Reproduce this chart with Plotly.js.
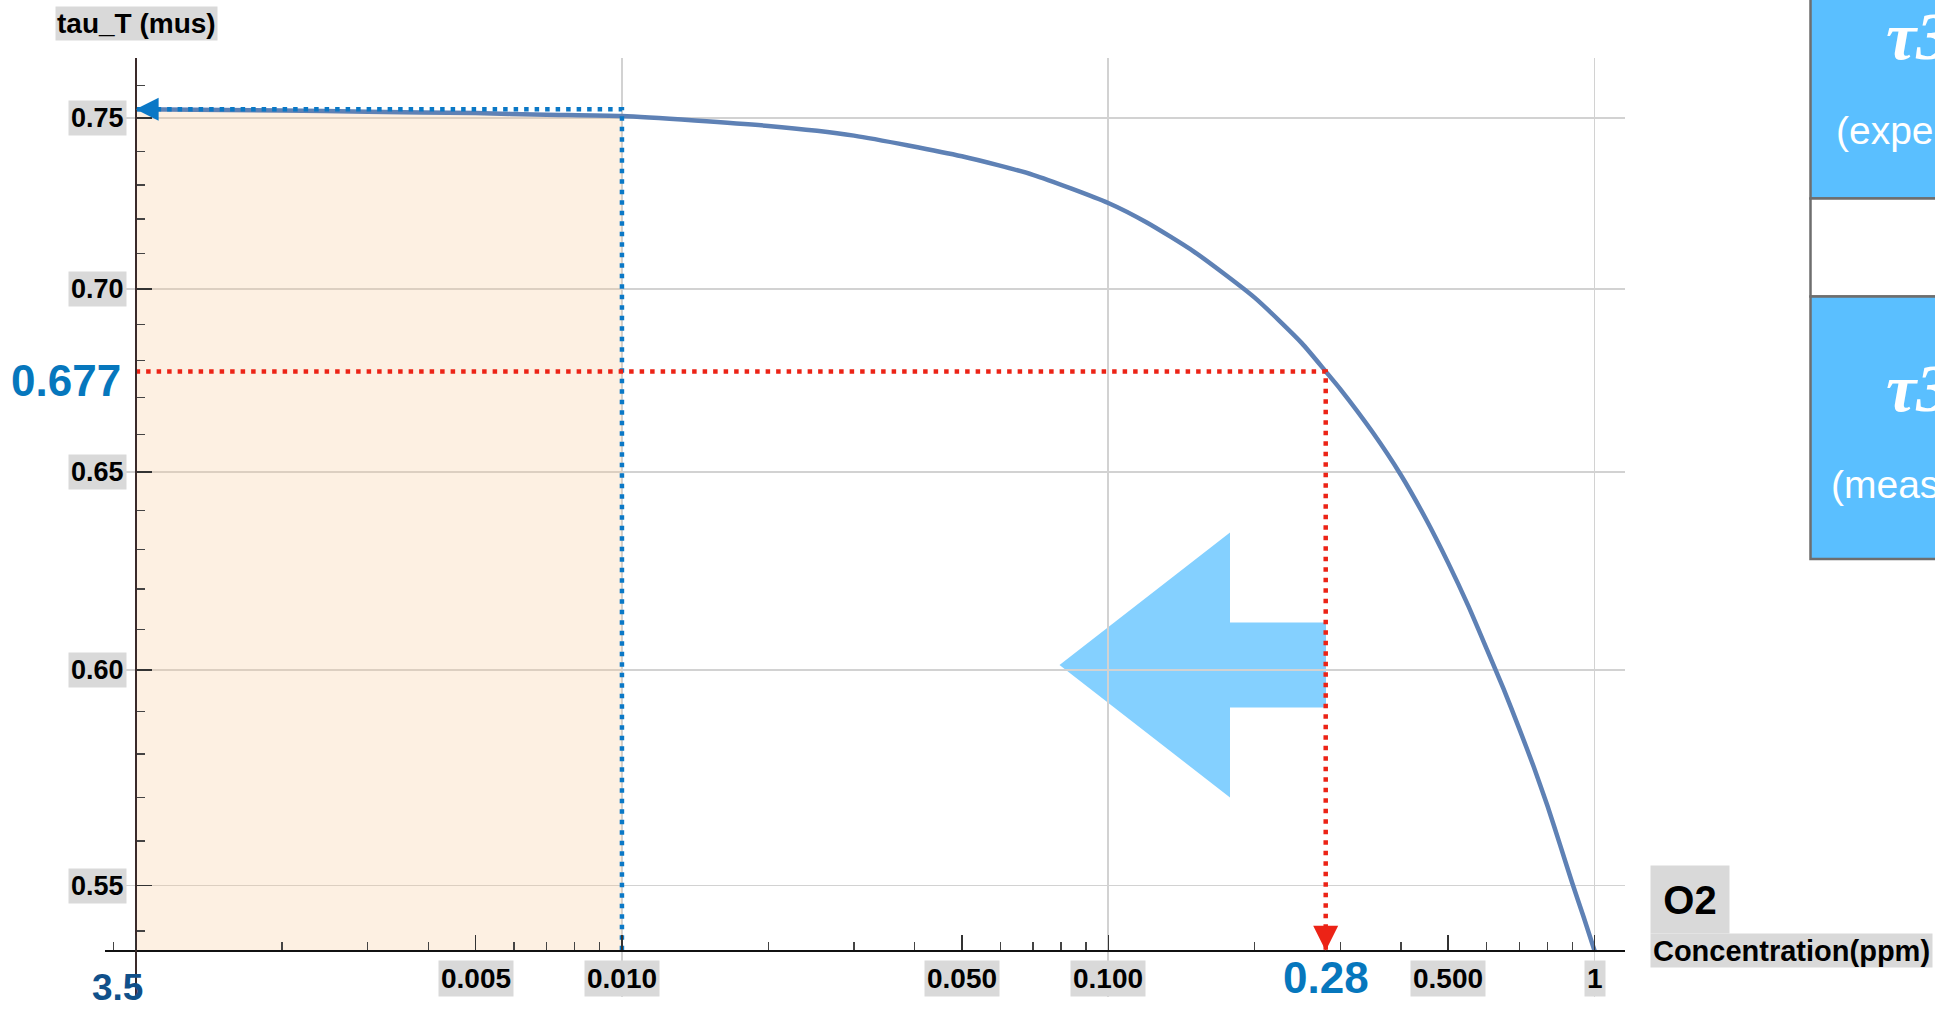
<!DOCTYPE html>
<html>
<head>
<meta charset="utf-8">
<script src="https://cdn.plot.ly/plotly-3.0.1.min.js"></script>
<style>
  html, body { margin: 0; padding: 0; background: #ffffff; overflow: hidden; }
  #chart { width: 1935px; height: 1009px; }
</style>
</head>
<body>
<div id="chart"></div>
<script>
// Triplet lifetime tau_T versus O2 concentration (log-log)
const o2Ppm = [0.001, 0.002, 0.003, 0.005, 0.007, 0.01, 0.02, 0.03, 0.05, 0.07, 0.1, 0.12, 0.15, 0.2, 0.25, 0.28, 0.3, 0.35, 0.4, 0.45, 0.5, 0.55, 0.6, 0.65, 0.7, 0.75, 0.8, 0.85, 0.9, 0.95, 1.0];
const tauT  = [0.7527, 0.7523, 0.7519, 0.7515, 0.7510, 0.7506, 0.7476, 0.7447, 0.7385, 0.7330, 0.7247, 0.7190, 0.7106, 0.6975, 0.6848, 0.677, 0.6722, 0.6605, 0.6492, 0.6378, 0.6266, 0.6158, 0.6052, 0.5955, 0.5860, 0.5770, 0.5680, 0.5590, 0.5505, 0.5430, 0.5357];

// read-off markers
const O2_LIMIT = 0.01;      // upper edge of the shaded low-O2 band
const O2_READ = 0.28;       // concentration
const TAU_READ = 0.677;     // lifetime at that concentration
const TAU_ZERO = tauT[0];   // lifetime at the lowest concentration
const Y_AXIS_AT = o2Ppm[0];             // vertical axis crosses here
const X_AXIS_AT = tauT[tauT.length - 1]; // horizontal axis crosses here

// tick labels
const xTickVals = [0.005, 0.01, 0.05, 0.1, 0.5, 1];
const xTickText = ['0.005', '0.010', '0.050', '0.100', '0.500', '1'];
const xMinorVals = [0.0009, 0.002, 0.003, 0.004, 0.006, 0.007, 0.008, 0.009,
                    0.02, 0.03, 0.04, 0.06, 0.07, 0.08, 0.09,
                    0.2, 0.3, 0.4, 0.6, 0.7, 0.8, 0.9];
const xGridVals = [0.01, 0.1, 1];
const yTickVals = [0.55, 0.60, 0.65, 0.70, 0.75];
const yTickText = ['0.55', '0.60', '0.65', '0.70', '0.75'];
const yMinorVals = [0.54, 0.56, 0.57, 0.58, 0.59, 0.61, 0.62, 0.63, 0.64, 0.66, 0.67, 0.68, 0.69, 0.71, 0.72, 0.73, 0.74, 0.76];

// page geometry
const W = 1935, H = 1009;
const M = { l: 105, r: 310, t: 58, b: 12 };
const plotW = W - M.l - M.r, plotH = H - M.t - M.b;
const paperX = px => (px - M.l) / plotW;
const paperY = py => (H - M.b - py) / plotH;

const X_RANGE = [-3.063, 0.0626];
const Y_RANGE = [-0.2792, -0.1144];
const log = Math.log10;

const SANS = 'Liberation Sans, Arial, Helvetica, sans-serif';
const SERIF = 'Liberation Serif, Times New Roman, serif';
const LABEL_BG = '#D9D9D9';
const CURVE = '#5E81B5';
const BLUE = '#0A78C6';
const RED = '#EC2316';
const BIG_BLUE = '#0677BD';

// shaded band under the curve up to O2_LIMIT
const bandX = [], bandY = [];
o2Ppm.forEach((x, i) => { if (x <= O2_LIMIT) { bandX.push(x); bandY.push(tauT[i]); } });
bandX.push(O2_LIMIT, Y_AXIS_AT);
bandY.push(X_AXIS_AT, X_AXIS_AT);

const traces = [
  {
    x: bandX, y: bandY, mode: 'lines', fill: 'toself',
    fillcolor: 'rgba(248,200,150,0.28)', line: { width: 0 }, hoverinfo: 'skip'
  },
  {
    x: o2Ppm, y: tauT, mode: 'lines',
    line: { color: CURVE, width: 4.5, shape: 'spline', smoothing: 0.6 }
  },
  {
    x: [Y_AXIS_AT, O2_LIMIT, O2_LIMIT], y: [TAU_ZERO, TAU_ZERO, X_AXIS_AT],
    xaxis: 'x2', yaxis: 'y2', mode: 'lines',
    line: { color: BLUE, width: 4.5, dash: '4.5px,6px' }
  },
  {
    x: [Y_AXIS_AT, O2_READ, O2_READ], y: [TAU_READ, TAU_READ, X_AXIS_AT],
    xaxis: 'x2', yaxis: 'y2', mode: 'lines',
    line: { color: RED, width: 4.5, dash: '4.5px,6px' }
  }
];

const annotations = [];

yTickVals.forEach((v, i) => annotations.push({
  xref: 'x', yref: 'y', x: log(Y_AXIS_AT), y: log(v),
  xanchor: 'right', yanchor: 'middle', xshift: -9,
  text: '<b>' + yTickText[i] + '</b>',
  font: { family: SANS, size: 27, color: '#000' },
  bgcolor: LABEL_BG, borderpad: 2, showarrow: false
}));

xTickVals.forEach((v, i) => annotations.push({
  xref: 'x', yref: 'y', x: log(v), y: log(X_AXIS_AT),
  xanchor: 'center', yanchor: 'top', yshift: -9,
  text: '<b>' + xTickText[i] + '</b>',
  font: { family: SANS, size: 28, color: '#000' },
  bgcolor: LABEL_BG, borderpad: 2, showarrow: false
}));

annotations.push(
  { // axis titles
    xref: 'paper', yref: 'paper', x: paperX(136), y: paperY(23),
    xanchor: 'center', yanchor: 'middle',
    text: '<b>tau_T (mus)</b>', font: { family: SANS, size: 28, color: '#000' },
    bgcolor: LABEL_BG, borderpad: 1, showarrow: false
  },
  {
    xref: 'paper', yref: 'paper', x: paperX(1650), y: paperY(899),
    xanchor: 'left', yanchor: 'middle', width: 78, height: 67, align: 'center',
    text: '<b>O2</b>', font: { family: SANS, size: 40, color: '#000' },
    bgcolor: LABEL_BG, borderpad: 0, showarrow: false
  },
  {
    xref: 'paper', yref: 'paper', x: paperX(1650), y: paperY(950.5),
    xanchor: 'left', yanchor: 'middle', width: 281, height: 33, align: 'center',
    text: '<b>Concentration(ppm)</b>', font: { family: SANS, size: 29, color: '#000' },
    bgcolor: LABEL_BG, borderpad: 0, showarrow: false
  },
  { // read-off values
    xref: 'x', yref: 'y', x: log(Y_AXIS_AT), y: log(TAU_READ),
    xanchor: 'right', yanchor: 'middle', xshift: -13, yshift: -9,
    text: '<b>0.677</b>', font: { family: SANS, size: 44, color: BIG_BLUE }, showarrow: false
  },
  {
    xref: 'x', yref: 'y', x: log(O2_READ), y: log(X_AXIS_AT),
    xanchor: 'center', yanchor: 'middle', yshift: -27,
    text: '<b>0.28</b>', font: { family: SANS, size: 44, color: BIG_BLUE }, showarrow: false
  },
  {
    xref: 'x', yref: 'y', x: log(Y_AXIS_AT), y: log(X_AXIS_AT),
    xanchor: 'center', yanchor: 'middle', xshift: -18, yshift: -37,
    text: '<b>3.5</b>', font: { family: SANS, size: 37, color: '#10508A' }, showarrow: false
  },
  { // arrowheads
    xref: 'x', yref: 'y', x: log(Y_AXIS_AT), y: log(TAU_ZERO),
    ax: 22, ay: 0, text: '', showarrow: true, arrowhead: 2,
    arrowsize: 2.3, arrowwidth: 2, arrowcolor: BLUE, standoff: 0
  },
  {
    xref: 'x', yref: 'y', x: log(O2_READ), y: log(X_AXIS_AT),
    ax: 0, ay: -26, text: '', showarrow: true, arrowhead: 2,
    arrowsize: 2, arrowwidth: 2.5, arrowcolor: RED, standoff: 0
  },
  { // side table text
    xref: 'paper', yref: 'paper', x: paperX(1884), y: paperY(36),
    xanchor: 'left', yanchor: 'middle',
    text: '<b><i>τ3</i></b>', font: { family: SERIF, size: 68, color: '#fff' }, showarrow: false
  },
  {
    xref: 'paper', yref: 'paper', x: paperX(1834), y: paperY(130),
    xanchor: 'left', yanchor: 'middle',
    text: '(expected)', font: { family: SANS, size: 39, color: '#fff' }, showarrow: false
  },
  {
    xref: 'paper', yref: 'paper', x: paperX(1884), y: paperY(388),
    xanchor: 'left', yanchor: 'middle',
    text: '<b><i>τ3</i></b>', font: { family: SERIF, size: 68, color: '#fff' }, showarrow: false
  },
  {
    xref: 'paper', yref: 'paper', x: paperX(1829), y: paperY(484),
    xanchor: 'left', yanchor: 'middle',
    text: '(measured)', font: { family: SANS, size: 39, color: '#fff' }, showarrow: false
  }
);

// big left-pointing arrow
const arrowPts = [[1059.5, 665], [1230, 532.5], [1230, 622.5], [1326, 622.5],
                  [1326, 707.5], [1230, 707.5], [1230, 797.5]];
const arrowPath = 'M' + arrowPts.map(p => paperX(p[0]) + ',' + paperY(p[1])).join('L') + 'Z';

const TABLE_L = paperX(1810.5), TABLE_R = paperX(2100);
const cell = (top, bottom, fill) => ({
  type: 'rect', xref: 'paper', yref: 'paper', layer: 'above',
  x0: TABLE_L, x1: TABLE_R, y0: paperY(bottom), y1: paperY(top),
  fillcolor: fill, line: { color: '#6E6E6E', width: 2.5 }
});

const shapes = [
  {
    type: 'path', xref: 'paper', yref: 'paper', layer: 'between',
    path: arrowPath, fillcolor: 'rgba(20,165,255,0.52)', line: { width: 0 }
  },
  cell(-20, 198.5, '#5ABFFF'),
  cell(198.5, 296.5, '#FFFFFF'),
  cell(296.5, 559, '#5ABFFF')
];

const layout = {
  width: W, height: H,
  margin: M,
  paper_bgcolor: '#ffffff', plot_bgcolor: '#ffffff',
  showlegend: false,
  xaxis: {
    type: 'log', range: X_RANGE, tickmode: 'array', tickvals: xGridVals,
    showgrid: true, gridcolor: '#D2D2D2', gridwidth: 1.6,
    showticklabels: false, ticks: '', showline: false, zeroline: false
  },
  yaxis: {
    type: 'log', range: Y_RANGE, tickmode: 'array', tickvals: yTickVals,
    showgrid: true, gridcolor: '#D2D2D2', gridwidth: 1.6,
    showticklabels: false, ticks: '', showline: false, zeroline: false
  },
  xaxis2: {
    type: 'log', range: X_RANGE, overlaying: 'x', anchor: 'free', side: 'bottom',
    position: (log(X_AXIS_AT) - Y_RANGE[0]) / (Y_RANGE[1] - Y_RANGE[0]),
    showline: true, linecolor: '#111', linewidth: 2.2,
    tickmode: 'array', tickvals: [Y_AXIS_AT].concat(xTickVals),
    ticks: 'inside', ticklen: 15, tickwidth: 1.5, tickcolor: '#333',
    minor: { tickmode: 'array', tickvals: xMinorVals, ticks: 'inside', ticklen: 7.5, tickwidth: 1.3, tickcolor: '#444', showgrid: false },
    showticklabels: false, showgrid: false, zeroline: false
  },
  yaxis2: {
    type: 'log', range: Y_RANGE, overlaying: 'y', anchor: 'free', side: 'left',
    position: (log(Y_AXIS_AT) - X_RANGE[0]) / (X_RANGE[1] - X_RANGE[0]),
    showline: true, linecolor: '#3A2A2A', linewidth: 2.6,
    tickmode: 'array', tickvals: yTickVals,
    ticks: 'inside', ticklen: 15, tickwidth: 1.5, tickcolor: '#333',
    minor: { tickmode: 'array', tickvals: yMinorVals, ticks: 'inside', ticklen: 7.5, tickwidth: 1.3, tickcolor: '#444', showgrid: false },
    showticklabels: false, showgrid: false, zeroline: false
  },
  shapes: shapes,
  annotations: annotations
};

Plotly.newPlot('chart', traces, layout, { displayModeBar: false, staticPlot: true });
</script>
</body>
</html>
